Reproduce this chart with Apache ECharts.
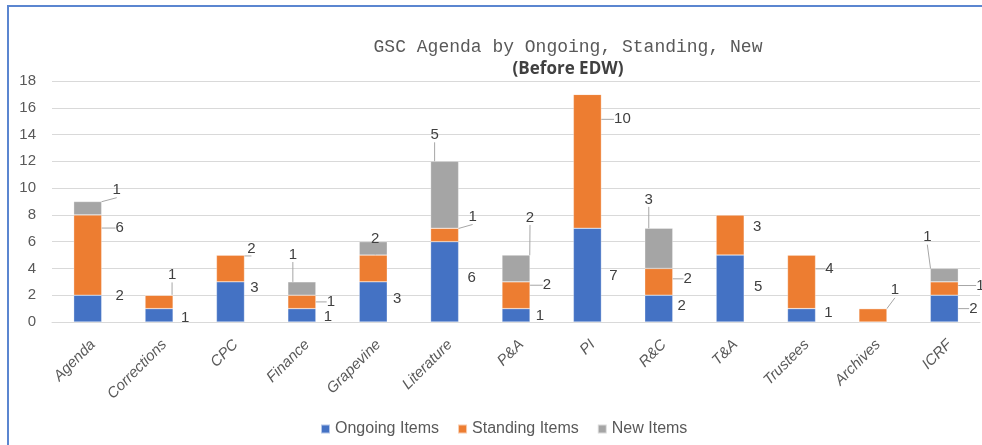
<!DOCTYPE html>
<html>
<head>
<meta charset="utf-8">
<script src="https://cdn.jsdelivr.net/npm/echarts@6/dist/echarts.min.js"></script>
<style>
    html, body { margin: 0; padding: 0; background: #fff; }
    #frame {
        position: absolute; left: 7px; top: 5px; width: 990px; height: 450px;
        border-left: 2px solid #5b86d0; border-top: 2px solid #5b86d0;
    }
    #chart { position: absolute; left: 0; top: 0; width: 982px; height: 445px; }
</style>
</head>
<body>
<div id="frame"></div>
<div id="chart"></div>
<script>
// categories + values
const categories = ['Agenda', 'Corrections', 'CPC', 'Finance', 'Grapevine', 'Literature',
    'P&A', 'PI', 'R&C', 'T&A', 'Trustees', 'Archives', 'ICRF'];
const ongoingItems  = [2, 1, 3, 1, 3, 6, 1, 7, 2, 5, 1, 0, 2];
const standingItems = [6, 1, 2, 1, 2, 1, 2, 10, 2, 3, 4, 1, 1];
const newItems      = [1, 0, 0, 1, 1, 5, 2, 0, 3, 0, 0, 0, 1];
const yTicks = [0, 2, 4, 6, 8, 10, 12, 14, 16, 18];

// label placement: offset of label centre from segment centre (px)
const labelOffsets = [
    [[32,-13],[26,3],[24,-14],[26,2],[24,-3],[27,-4],[24,1],[26,1],[23,-3],[28,-2],[27,-2],[0,0],[29,0]],
    [[32,-27],[13,-27],[21,-20],[29,0],[2,-30],[28,-18],[31,-10],[35,-42],[29,-3],[27,-8],[28,-13],[22,-25],[36,-3]],
    [[29,-18],[0,0],[0,0],[-9,-34],[0,0],[-10,-60],[14,-51],[0,0],[-10,-49],[0,0],[0,0],[0,0],[-17,-38]]
];
// which labels have a leader line, and which are hidden in the original
const leaderLines = [[12], [0,1,2,3,4,5,6,7,8,10,11,12], [0,3,5,6,8,12]];
const hiddenLabels = [[], [], [4]];

const dom = document.getElementById('chart');
const myChart = echarts.init(dom, null, { renderer: 'canvas' });

function buildData(values, s) {
    return values.map(function (v, i) {
        const item = { value: v };
        if (v === 0 || hiddenLabels[s].indexOf(i) >= 0) {
            item.label = { show: false };
        } else if (leaderLines[s].indexOf(i) >= 0) {
            item.labelLine = { show: true };
        }
        return item;
    });
}

function makeSeries(name, values, color, s) {
    return {
        name: name,
        type: 'bar',
        stack: 'total',
        barWidth: 28,
        data: buildData(values, s),
        itemStyle: { color: color, borderColor: 'rgba(255,255,255,0.6)', borderWidth: 0.5 },
        label: {
            show: true,
            position: 'inside',
            color: '#404040',
            fontSize: 15,
            fontFamily: 'Liberation Sans'
        },
        labelLine: {
            show: false,
            lineStyle: { color: '#a6a6a6', width: 1 }
        },
        labelLayout: function (p) {
            const off = labelOffsets[s][p.dataIndex];
            return {
                x: p.rect.x + p.rect.width / 2 + off[0],
                y: p.rect.y + p.rect.height / 2 + off[1],
                align: 'center',
                verticalAlign: 'middle'
            };
        },
        emphasis: { disabled: true }
    };
}

const option = {
    animation: false,
    title: [
        {
            text: 'GSC Agenda by Ongoing, Standing, New',
            left: 563, top: 33, textAlign: 'center',
            textStyle: { fontFamily: 'Liberation Mono', fontSize: 18, fontWeight: 'normal', color: '#595959' }
        },
        {
            text: '(Before EDW)',
            left: 563, top: 56, textAlign: 'center',
            textStyle: { fontFamily: 'Open Sans', fontSize: 17, fontWeight: 'bold', color: '#404040' }
        }
    ],
    legend: {
        data: ['Ongoing Items', 'Standing Items', 'New Items'],
        left: 315,
        top: 416,
        icon: 'rect',
        itemWidth: 9,
        itemHeight: 9,
        itemGap: 18,
        textStyle: { fontFamily: 'Liberation Sans', fontSize: 16, color: '#595959' }
    },
    grid: { left: 52, right: 2, top: 81, bottom: 123, containLabel: false },
    xAxis: {
        type: 'category',
        data: categories,
        axisTick: { show: false },
        axisLine: { lineStyle: { color: '#d9d9d9', width: 1 } },
        axisLabel: {
            rotate: 45,
            interval: 0,
            margin: 15,
            verticalAlign: 'top',
            fontStyle: 'italic',
            fontFamily: 'Liberation Sans',
            fontSize: 15,
            color: '#595959'
        }
    },
    yAxis: {
        type: 'value',
        min: yTicks[0],
        max: yTicks[yTicks.length - 1],
        interval: 2,
        axisLine: { show: false },
        axisTick: { show: false },
        splitLine: { lineStyle: { color: '#d9d9d9', width: 1 } },
        axisLabel: { margin: 16, fontFamily: 'Liberation Sans', fontSize: 15, color: '#595959' }
    },
    series: [
        makeSeries('Ongoing Items', ongoingItems, '#4472C4', 0),
        makeSeries('Standing Items', standingItems, '#ED7D31', 1),
        makeSeries('New Items', newItems, '#A5A5A5', 2)
    ]
};

myChart.setOption(option, true);
window.addEventListener('resize', function () { myChart.resize(); });
</script>
</body>
</html>
